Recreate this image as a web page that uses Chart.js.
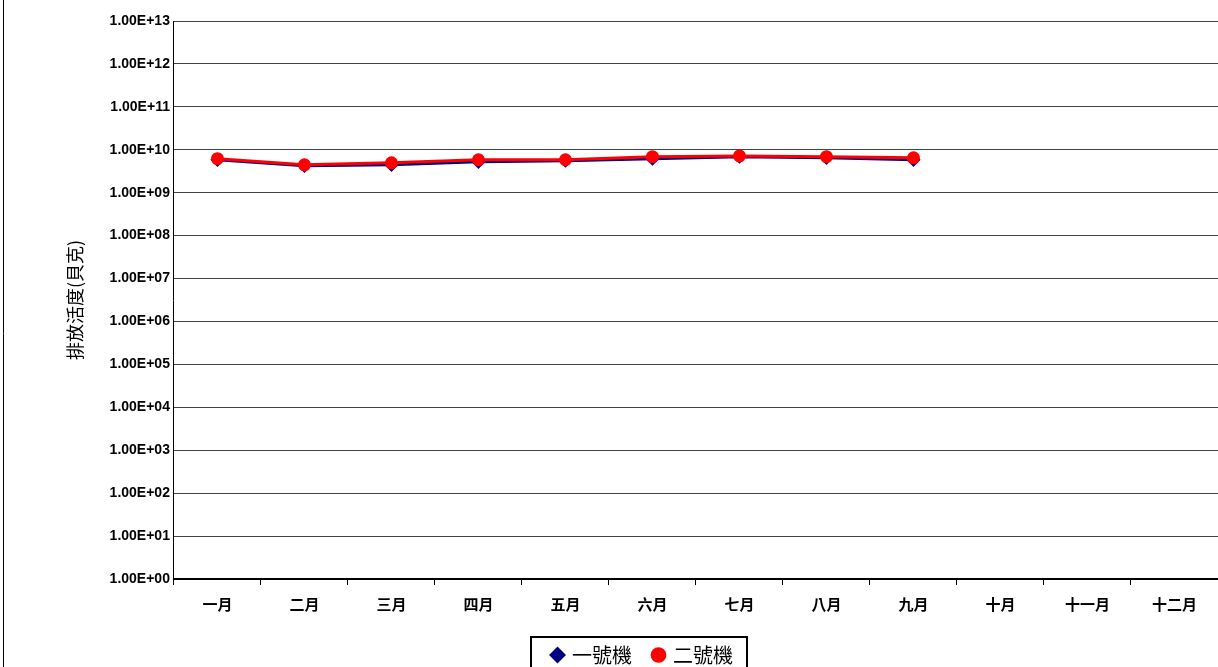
<!DOCTYPE html>
<html><head><meta charset="utf-8">
<script src="https://cdn.jsdelivr.net/npm/chart.js@4"></script>
<style>html,body{margin:0;padding:0;background:#fff;overflow:hidden}#w{width:1226px;height:667px;position:relative}</style>
</head><body><div id="w"><canvas id="c"></canvas></div>
<script>
const categories=['一月','二月','三月','四月','五月','六月','七月','八月','九月','十月','十一月','十二月'];
const unit1=[5.85e9,4.24e9,4.47e9,5.25e9,5.55e9,6.2e9,6.9e9,6.5e9,5.85e9,null,null,null];
const unit2=[6.2e9,4.47e9,4.97e9,5.85e9,5.85e9,6.9e9,7.2e9,6.9e9,6.5e9,null,null,null];
const yTicks=[0,1,2,3,4,5,6,7,8,9,10,11,12,13];
const F='"Liberation Sans", Arial, sans-serif';
const CJK='"Noto Sans CJK TC", sans-serif';
const frame={id:'frame',afterDraw(ch){const c=ch.ctx,l=ch.legend,h=l.legendHitBoxes;c.save();
let x0=Math.min(...h.map(b=>b.left))-22,x1=Math.max(...h.map(b=>b.left+b.width))+14,y0=Math.min(...h.map(b=>b.top))-8;
c.strokeStyle='#000';c.lineWidth=2;c.strokeRect(x0,y0,x1-x0,80);
c.lineWidth=1;c.beginPath();c.moveTo(3.5,0);c.lineTo(3.5,667);c.stroke();c.restore();}};
new Chart(document.getElementById('c'),{type:'line',
data:{labels:categories,datasets:[
{label:'一號機',data:unit1,order:2,borderColor:'#000080',backgroundColor:'#000080',borderWidth:3,pointStyle:'rectRot',pointRadius:5,pointHoverRadius:5,tension:0},
{label:'二號機',data:unit2,order:1,borderColor:'#ff0000',backgroundColor:'#ff0000',borderWidth:3,pointStyle:'circle',pointRadius:5,pointHoverRadius:5,tension:0}]},
plugins:[frame],
options:{responsive:true,maintainAspectRatio:false,animation:false,
layout:{padding:{top:21,right:0,left:60,bottom:-8}},
plugins:{tooltip:{enabled:false},
legend:{position:'bottom',labels:{usePointStyle:true,boxWidth:9,boxHeight:9,font:{family:CJK,size:20},color:'#000',padding:22,sort:(a,b)=>a.datasetIndex-b.datasetIndex}}},
scales:{
x:{offset:true,grid:{offset:true,drawOnChartArea:false,color:'#000',tickLength:6},border:{color:'#000',width:2},
ticks:{font:{family:CJK,size:15,weight:'bold'},color:'#000',padding:10}},
y:{type:'logarithmic',min:1,max:1e13,
afterBuildTicks(s){s.ticks=yTicks.map(e=>({value:Math.pow(10,e)}));},
grid:{color:'#444',tickLength:0},border:{color:'#000',width:1},
ticks:{autoSkip:false,font:{family:F,size:14,weight:'bold'},color:'#000',padding:4,
callback:v=>'1.00E+'+String(Math.round(Math.log10(v))).padStart(2,'0')},
title:{display:true,text:'排放活度(貝克)',font:{family:CJK,size:18},color:'#000',padding:{bottom:20}}}}}});
</script></body></html>
